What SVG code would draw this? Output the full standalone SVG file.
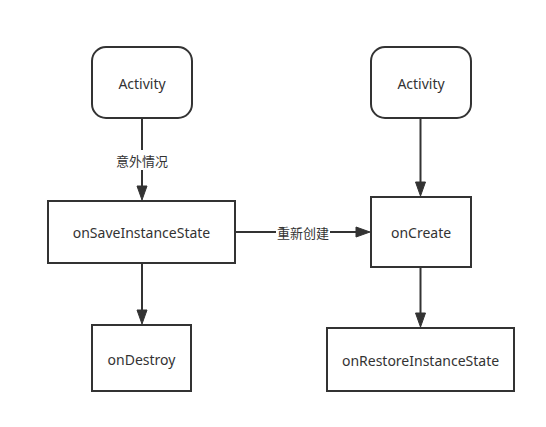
<svg xmlns="http://www.w3.org/2000/svg" width="546" height="427" viewBox="0 0 546 427">
<style>
.box{fill:#fff;stroke:#333;stroke-width:2}
.t{font-family:"Noto Sans","Noto Sans CJK SC",sans-serif;font-size:14px;fill:#333;text-anchor:middle;dominant-baseline:central}
.lbl{font-family:"Noto Sans CJK SC","Noto Sans",sans-serif;font-size:13px;fill:#333;text-anchor:middle;dominant-baseline:central}
.ln{stroke:#333;stroke-width:2;fill:none}
.ah{fill:#333;stroke:#333;stroke-width:1}
</style>
<rect width="546" height="427" fill="#fff"/>
<g id="connectors">
<line class="ln" x1="142" y1="118" x2="142" y2="186"/>
<rect x="112" y="150" width="60" height="20" fill="#fff"/>
<text class="lbl" x="142" y="160">意外情况</text>
<polygon class="ah" points="137,186 147,186 142,200"/>
<line class="ln" x1="420.5" y1="118" x2="420.5" y2="182"/>
<polygon class="ah" points="415.5,182 425.5,182 420.5,196"/>
<line class="ln" x1="142" y1="263" x2="142" y2="310"/>
<polygon class="ah" points="137,310 147,310 142,324"/>
<line class="ln" x1="420.5" y1="267" x2="420.5" y2="313"/>
<polygon class="ah" points="415.5,313 425.5,313 420.5,327"/>
<line class="ln" x1="235" y1="232" x2="356" y2="232"/>
<rect x="276" y="222" width="54" height="20" fill="#fff"/>
<text class="lbl" x="303" y="232">重新创建</text>
<polygon class="ah" points="356,227 356,237 370,232"/>
</g>
<g id="activity1">
<rect class="box" x="92" y="47" width="100" height="71" rx="14" ry="14"/>
<text class="t" x="142" y="83">Activity</text>
</g>
<g id="activity2">
<rect class="box" x="371" y="47" width="100" height="71" rx="14" ry="14"/>
<text class="t" x="421" y="83">Activity</text>
</g>
<g id="onSaveInstanceState">
<rect class="box" x="48" y="201" width="187" height="62"/>
<text class="t" x="141.5" y="232">onSaveInstanceState</text>
</g>
<g id="onCreate">
<rect class="box" x="371" y="197" width="100" height="70"/>
<text class="t" x="421" y="232">onCreate</text>
</g>
<g id="onDestroy">
<rect class="box" x="92" y="325" width="99" height="66"/>
<text class="t" x="141.5" y="359">onDestroy</text>
</g>
<g id="onRestoreInstanceState">
<rect class="box" x="327" y="328" width="187" height="63"/>
<text class="t" x="420.5" y="360">onRestoreInstanceState</text>
</g>
</svg>
